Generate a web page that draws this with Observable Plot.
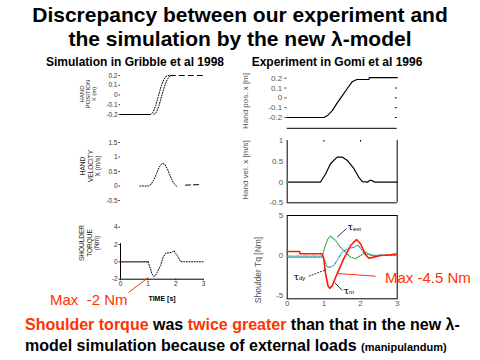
<!DOCTYPE html>
<html><head><meta charset="utf-8">
<script src="https://cdn.jsdelivr.net/npm/d3@7"></script>
<script src="https://cdn.jsdelivr.net/npm/@observablehq/plot@0.6"></script>
<style>
html,body{margin:0;padding:0;background:#fff;}
#page{position:relative;width:480px;height:360px;overflow:hidden;background:#fff;font-family:"Liberation Sans",Arial,sans-serif;}
.t{position:absolute;white-space:pre;line-height:1;}
.c{transform:translate(-50%,-50%);}
.l{transform:translate(0,-50%);}
.rot{position:absolute;transform:translate(-50%,-50%) rotate(-90deg);white-space:pre;text-align:center;}
.red{color:#ff3300;}
</style></head><body><div id="page"></div>
<script>
// ---------- DATA ----------
const timeTicks = [0, 1, 2, 3];
// Simulation (Gribble et al 1998)
const simPosTicks = [-0.2, -0.1, 0, 0.1, 0.2];
const simPosFlatT = [0, 1.08], simPosFlatY = [-0.2, -0.2];
const simPosAT = [1.08, 1.17, 1.27, 1.37, 1.47, 1.57, 1.66, 1.75];
const simPosAY = [-0.2, -0.18, -0.11, -0.01, 0.09, 0.16, 0.195, 0.2];
const simPosBT = [1.2, 1.29, 1.39, 1.49, 1.59, 1.69, 1.78, 1.87];
const simPosBY = [-0.2, -0.18, -0.11, -0.01, 0.09, 0.16, 0.195, 0.2];
const simPosEndT = [1.8, 3.05], simPosEndY = [0.2, 0.2];

const simVelTicks = [-0.5, 0, 0.5, 1, 1.5];
const simVelT = [0.7, 1.0, 1.1, 1.2, 1.3, 1.4, 1.5, 1.6, 1.7, 1.8, 1.9, 2.0, 2.05];
const simVelY = [0, 0, 0.05, 0.2, 0.42, 0.65, 0.78, 0.75, 0.58, 0.34, 0.13, 0.01, -0.02];
const simVelEndT = [2.35, 2.9], simVelEndY = [0.03, 0.05];

const simTqTicks = [-2, 0, 2, 4];
const simTqFlatT = [0, 1.0], simTqFlatY = [0, 0];
const simTqT = [1.0, 1.08, 1.14, 1.2, 1.27, 1.33, 1.45, 1.54, 1.63, 1.75, 1.87, 1.93, 2.05, 2.17, 2.4, 2.7, 3.0];
const simTqY = [0, -0.8, -1.4, -1.69, -1.55, -1.19, -0.42, 0.54, 1.0, 1.05, 1.1, 1.3, 0.73, 0.04, 0, 0.02, 0];

// Experiment (Gomi et al 1996)
const expPosTicks = [-0.2, -0.1, 0, 0.1, 0.2];
const expPosT = [0, 1.0, 1.09, 1.23, 1.36, 1.5, 1.64, 1.77, 1.9, 2.23, 2.24, 3.0];
const expPosY = [-0.2, -0.2, -0.183, -0.13, -0.054, 0.021, 0.095, 0.163, 0.187, 0.188, 0.205, 0.205];

const expVelTicks = [-0.5, 0, 0.5, 1];
const expVelT = [0, 0.91, 1.05, 1.18, 1.36, 1.5, 1.64, 1.82, 1.95, 2.05, 2.2, 2.25, 2.3, 2.38, 3.0];
const expVelY = [0, 0, 0.2, 0.44, 0.6, 0.6, 0.52, 0.32, 0.12, 0.01, 0, 0.04, 0.04, 0, 0];

const expTqTicks = [-5, 0, 5];
const tqMT = [0, 0.34, 0.35, 0.95, 1.0, 1.04, 1.11, 1.16, 1.23, 1.36, 1.54, 1.73, 1.89, 2.0, 2.14, 2.23, 2.36, 2.55, 2.82, 3.0];
const tqMY = [0.51, 0.51, 0.22, 0.22, -0.41, -2.08, -3.74, -4.1, -3.74, -2.28, -0.41, 1.25, 2.0, 1.47, 0.09, -0.33, -0.2, 0, 0.09, 0.22];
const tqDyT = [0, 0.97, 1.04, 1.09, 1.18, 1.27, 1.36, 1.5, 1.64, 1.82, 1.91, 2.0, 2.11, 2.23, 2.36, 2.55, 3.0];
const tqDyY = [-0.05, -0.05, -0.83, -1.45, -1.45, -1.24, -0.62, 0.42, 0.84, 1.04, 1.33, 0.92, 0.22, 0.1, 0, 0.08, 0];
const tqExtT = [0, 0.95, 1.04, 1.11, 1.18, 1.32, 1.45, 1.59, 1.73, 1.86, 2.0, 2.14, 2.27, 2.45, 3.0];
const tqExtY = [-0.2, -0.2, 1.25, 2.09, 2.42, 1.88, 1.04, 0.42, -0.2, -0.41, 0, 0.42, 0.09, 0, 0];

// ---------- LAYOUT ----------
const page = document.getElementById("page");
const FONT = '"Liberation Sans", Arial, sans-serif';
const fmt = d => String(d);
function panel(o) {
  const svg = Plot.plot({
    width: o.width, height: o.height,
    marginLeft: o.mL, marginRight: o.mR, marginTop: o.mT, marginBottom: o.mB,
    x: Object.assign({domain: [0, 3]}, o.xAxis ? {} : {axis: null}),
    y: {domain: o.yDomain},
    style: {fontFamily: FONT, fontSize: "7px", overflow: "visible", background: "transparent", maxWidth: "none"},
    marks: o.marks
  });
  svg.style.position = "absolute";
  svg.style.left = o.left + "px";
  svg.style.top = o.top + "px";
  page.appendChild(svg);
}
const ln = (T, Y, opt = {}) => Plot.line(T, Object.assign({x: T, y: Y, stroke: "#000", strokeWidth: 1}, opt));
const DOT = "1,1.6";
const LCOL = "#333";

// Left column
const leftBox = {left: 40, width: 175, mL: 80, mR: 12};
panel({...leftBox, top: 65, height: 55, mT: 10, mB: 6, yDomain: [-0.2, 0.2], marks: [
  Plot.axisY({ticks: simPosTicks, tickFormat: fmt, tickSize: 1.5, tickPadding: 1.5, fontSize: 6.5, label: null, color: LCOL}),
  ln(simPosFlatT, simPosFlatY),
  ln(simPosAT, simPosAY, {strokeDasharray: DOT}),
  ln(simPosBT, simPosBY, {strokeDasharray: DOT}),
  ln(simPosEndT, simPosEndY, {strokeDasharray: "5,4"})
]});
panel({...leftBox, top: 135, height: 70, mT: 7, mB: 5, yDomain: [-0.5, 1.5], marks: [
  Plot.axisY({ticks: simVelTicks, tickFormat: fmt, tickSize: 1.5, tickPadding: 1.5, fontSize: 6.5, label: null, color: LCOL}),
  ln(simVelT, simVelY, {strokeDasharray: DOT}),
  ln(simVelEndT, simVelEndY, {strokeDasharray: "5,3"})
]});
panel({...leftBox, top: 215, height: 90, mT: 11.7, mB: 26.3, yDomain: [-2, 4], xAxis: true, marks: [
  Plot.axisY({ticks: simTqTicks, tickFormat: fmt, tickSize: 1.5, tickPadding: 1.5, fontSize: 6.5, label: null, color: LCOL}),
  Plot.axisX({ticks: timeTicks, tickFormat: fmt, tickSize: 1.5, tickPadding: 1, fontSize: 6.5, label: null, color: LCOL}),
  Plot.ruleY([-2], {stroke: "#000", strokeWidth: 1}),
  Plot.ruleX([0], {y1: -2, y2: 2.1, stroke: "#000", strokeWidth: 1}),
  ln(simTqFlatT, simTqFlatY),
  ln(simTqT, simTqY, {strokeDasharray: DOT}),
  Plot.link([0], {x1: [0.29], y1: [-3.53], x2: [1.01], y2: [-1.8], stroke: "#ff3300", strokeWidth: 1})
]});

// Right column
const rightBox = {left: 250, width: 160, mL: 36.7, mR: 13.3};
const GRAY = "#555";
panel({...rightBox, top: 68, height: 64, mT: 9.7, mB: 15, yDomain: [-0.2, 0.2], marks: [
  Plot.axisY({ticks: expPosTicks, tickFormat: fmt, tickSize: 2.5, tickPadding: 2.5, fontSize: 8, label: null, color: GRAY}),
  Plot.ruleY(expPosTicks.filter(v => v < 0.2), {x1: 2.95, x2: 3, stroke: "#000"}),
  Plot.ruleY([-0.31], {stroke: "#000", strokeWidth: 1}),
  ln(expPosT, expPosY, {strokeWidth: 1.2})
]});
panel({...rightBox, top: 132, height: 76, mT: 8, mB: 5.7, yDomain: [-0.5, 1], marks: [
  Plot.axisY({ticks: expVelTicks, tickFormat: fmt, tickSize: 0, tickPadding: 4, fontSize: 8, label: null, color: GRAY}),
  Plot.ruleX([0, 3], {y1: -0.5, y2: 1, stroke: "#000"}),
  Plot.ruleY([-0.5], {stroke: "#000"}),
  Plot.ruleX([1, 2], {y1: 0.96, y2: 1, stroke: "#000"}),
  ln(expVelT, expVelY, {strokeWidth: 1.2}),
  Plot.dot([0], {x: [0], y: [0], r: 1, fill: "#00c0d0", stroke: null})
]});
panel({...rightBox, top: 208, height: 102, mT: 7, mB: 11.7, yDomain: [-5.4, 5], xAxis: true, marks: [
  Plot.axisY({ticks: expTqTicks, tickFormat: fmt, tickSize: 0, tickPadding: 4, fontSize: 8, label: null, color: GRAY}),
  Plot.axisX({ticks: timeTicks, tickFormat: fmt, tickSize: 0, tickPadding: 2, fontSize: 8, label: null, color: GRAY}),
  Plot.frame({stroke: "#000"}),
  ln(tqExtT, tqExtY, {stroke: "#2a9a40", strokeDasharray: "1.3,1.3", strokeWidth: 1.1}),
  ln(tqDyT, tqDyY, {stroke: "#1aa0cc", strokeDasharray: "4,1.5,1,1.5", strokeWidth: 1.1}),
  ln(tqMT, tqMY, {stroke: "#ff1a00", strokeWidth: 1.6}),
  Plot.link([0], {x1: [1.36], y1: [2.29], x2: [1.62], y2: [3.38], stroke: "#000", strokeWidth: 0.8}),
  Plot.link([0], {x1: [0.59], y1: [-2.58], x2: [1.07], y2: [-1.74], stroke: "#000", strokeWidth: 0.8, strokeDasharray: "2,1"}),
  Plot.link([0], {x1: [1.30], y1: [-3.4], x2: [1.5], y2: [-4.36], stroke: "#000", strokeWidth: 0.8}),
  Plot.link([0], {x1: [1.36], y1: [-2.24], x2: [2.41], y2: [-2.58], stroke: "#ff3300", strokeWidth: 1}),
  Plot.text(["τ"], {x: [1.645], y: [3.6], textAnchor: "start", fontSize: 10, fontFamily: "DejaVu Serif, serif"}),
  Plot.text(["ext"], {x: [1.645], y: [3.6], dx: 5.5, dy: 2, textAnchor: "start", fontSize: 6}),
  Plot.text(["τ"], {x: [0.17], y: [-2.62], textAnchor: "start", fontSize: 10, fontFamily: "DejaVu Serif, serif"}),
  Plot.text(["dy"], {x: [0.17], y: [-2.62], dx: 5.5, dy: 2, textAnchor: "start", fontSize: 6}),
  Plot.text(["τ"], {x: [1.535], y: [-4.36], textAnchor: "start", fontSize: 10, fontFamily: "DejaVu Serif, serif"}),
  Plot.text(["m"], {x: [1.535], y: [-4.36], dx: 5.5, dy: 2, textAnchor: "start", fontSize: 6})
]});

// ---------- TEXT ----------
function txt(html, cls, style) {
  const d = document.createElement("div");
  d.className = cls;
  d.innerHTML = html;
  Object.assign(d.style, style);
  page.appendChild(d);
}
txt("Discrepancy between our experiment and", "t c", {left: "240px", top: "14px", fontSize: "21px", fontWeight: "bold"});
txt("the simulation by the new λ-model", "t c", {left: "240px", top: "38px", fontSize: "21px", fontWeight: "bold"});
txt("Simulation in Gribble et al 1998", "t c", {left: "135px", top: "62px", fontSize: "12px", fontWeight: "bold"});
txt("Experiment in Gomi et al 1996", "t c", {left: "337px", top: "62px", fontSize: "12px", fontWeight: "bold"});

txt("HAND<br>POSITION<br>X (m)", "rot", {left: "88px", top: "94px", fontSize: "6px", lineHeight: "6px", color: "#222"});
txt("HAND<br>VELOCITY<br>X (m/s)", "rot", {left: "90px", top: "166px", fontSize: "6.5px", lineHeight: "7.5px", color: "#222"});
txt("SHOULDER<br>TORQUE<br>(Nm)", "rot", {left: "89px", top: "243px", fontSize: "6.5px", lineHeight: "7.5px", color: "#222"});
txt("TIME [s]", "t c", {left: "162px", top: "298px", fontSize: "7px", fontWeight: "bold"});

txt("Hand pos. x [m]", "rot", {left: "245px", top: "101px", fontSize: "8px", color: GRAY});
txt("Hand vel. x [m/s]", "rot", {left: "245px", top: "170px", fontSize: "8px", color: GRAY});
txt("Shoulder Tq [Nm]", "rot", {left: "258px", top: "270px", fontSize: "8.5px", color: GRAY});

txt("Max  -2 Nm", "t l red", {left: "50px", top: "299px", fontSize: "15px"});
txt("Max -4.5 Nm", "t l red", {left: "385px", top: "277px", fontSize: "15px"});

txt('<span class="red">Shoulder torque</span> was <span class="red">twice greater</span> than that in the new λ-', "t l", {left: "25px", top: "325px", fontSize: "16px", fontWeight: "bold"});
txt('model simulation because of external loads <span style="font-size:11px">(manipulandum)</span>', "t l", {left: "25px", top: "346px", fontSize: "16px", fontWeight: "bold"});
</script>
</body></html>
